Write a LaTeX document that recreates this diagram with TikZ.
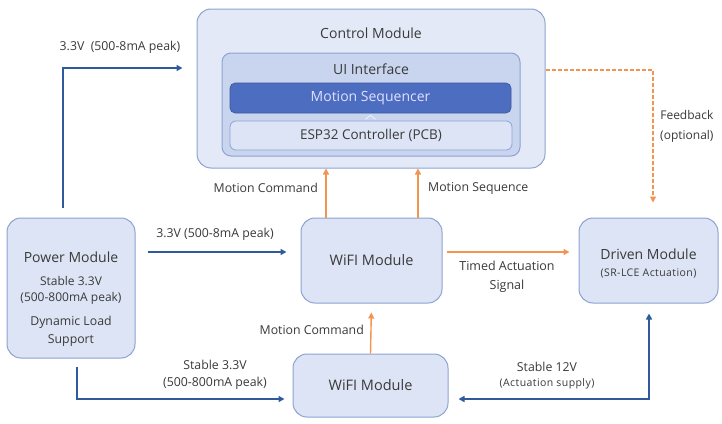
\documentclass[tikz,border=0pt]{standalone}
\usepackage{fontspec}
\setmainfont{Open Sans}
\usetikzlibrary{arrows.meta,calc}
\definecolor{boxfill}{HTML}{DCE4F5}
\definecolor{boxline}{HTML}{8EA3D2}
\definecolor{uifill}{HTML}{C9D4EF}
\definecolor{seqfill}{HTML}{4C6DC0}
\definecolor{bluearr}{HTML}{2F5B9C}
\definecolor{orangearr}{HTML}{F39552}
\definecolor{txt}{HTML}{3A3A3A}
\tikzset{
  modbox/.style={draw=boxline, line width=1pt, fill=boxfill, rounded corners=14pt, inner sep=0pt, text=txt, align=center},
  bluewire/.style={draw=bluearr, line width=1.8pt, -{Triangle[length=6pt,width=6pt]}},
  orangewire/.style={draw=orangearr, line width=1.4pt, -{Triangle[length=6pt,width=6pt]}},
  lbl/.style={text=txt, font=\fontsize{12.3}{17}\selectfont, inner sep=0pt, align=center},
  small/.style={text=txt, font=\fontsize{10.5}{12}\selectfont\addfontfeatures{LetterSpace=4}, inner sep=0pt, align=center},
  title/.style={font=\fontsize{14}{16}\selectfont},
}
\begin{document}
\begin{tikzpicture}[x=1pt,y=-1pt]
\useasboundingbox[fill=white] (0,0) rectangle (722,423);
% Control module
\node[modbox, minimum width=348pt, minimum height=159pt, fill=boxfill!80!white] (control) at (371,88.5) {};
\node[lbl, title] (ctitle) at (371,33) {Control Module};
\node[modbox, rounded corners=9pt, fill=uifill, minimum width=298pt, minimum height=103pt] (ui) at (371,104.5) {};
\node[lbl, title] (uititle) at (371,69) {UI Interface};
\node[draw=seqfill!80!black, line width=0.6pt, fill=seqfill, rounded corners=5pt, minimum width=281pt, minimum height=30pt, inner sep=0pt, text=white!88!blue, font=\fontsize{14}{16}\selectfont] (seq) at (370.5,98) {Motion Sequencer};
\node[draw=boxline, line width=0.8pt, fill=boxfill, rounded corners=6pt, minimum width=282pt, minimum height=29pt, inner sep=0pt, text=txt, font=\fontsize{13.5}{15}\selectfont] (esp) at (371,135.5) {ESP32 Controller (PCB)};
\draw[white!50!boxfill, line width=0.9pt] ([xshift=-5pt,yshift=-6pt]seq.south) -- ([yshift=-2pt]seq.south) -- ([xshift=5pt,yshift=-6pt]seq.south);
% Other modules
\node[modbox, minimum width=141pt, minimum height=85pt, font=\fontsize{14.5}{16}\selectfont] (wifi1) at (371.5,260.5) {WiFI Module};
\node[modbox, minimum width=139pt, minimum height=85pt] (driven) at (648.5,260.5) {};
\node[lbl, font=\fontsize{14}{16}\selectfont] (drivent) at (648.5,254) {Driven Module};
\node[small] (drivens) at (648.5,273) {(SR-LCE Actuation)};
\node[modbox, minimum width=155pt, minimum height=63pt, font=\fontsize{14.5}{16}\selectfont] (wifi2) at (370.5,385.5) {WiFI Module};
\node[modbox, minimum width=128pt, minimum height=140pt] (power) at (71,288) {};
\node[lbl, font=\fontsize{14}{16}\selectfont] (powert) at (71,257) {Power Module};
\node[lbl, font=\fontsize{12}{16}\selectfont] (powers1) at (71,290) {Stable 3.3V\\(500-800mA peak)};
\node[lbl, font=\fontsize{12.3}{18}\selectfont] (powers2) at (71,331) {Dynamic Load\\Support};
% helper coordinates
\coordinate (c63) at (63,68);
\coordinate (c252) at (0,252);
\coordinate (c77) at (77,399);
\coordinate (c326) at (326,0);
\coordinate (c418) at (418,0);
\coordinate (c649) at (649,399);
\coordinate (c653) at (653,70);
% Blue power lines
\draw[bluewire, shorten <=10pt, shorten >=14pt] (power.north -| c63) |- (control.west |- c63);
\draw[bluewire, shorten <=12pt, shorten >=14pt] (power.east |- c252) -- (wifi1.west |- c252);
\draw[bluewire, shorten <=8pt, shorten >=8pt] (power.south -| c77) |- (wifi2.west |- c77);
\draw[bluewire, {Triangle[length=6pt,width=6pt]}-{Triangle[length=6pt,width=6pt]}, shorten <=10pt, shorten >=10pt] (driven.south -| c649) |- (wifi2.east |- c649);
% Orange signal lines
\draw[orangewire] (wifi1.north -| c326) -- (control.south -| c326);
\draw[orangewire] (wifi1.north -| c418) -- (control.south -| c418);
\draw[orangewire, shorten <=4pt, shorten >=9pt] (wifi1.east |- c252) -- (driven.west |- c252);
\draw[orangewire, shorten >=9pt] (wifi2.north) -- (wifi1.south);
\draw[orangewire, dashed, dash pattern=on 4pt off 2pt, line width=1.2pt, shorten >=15pt] (control.east |- c653) -| (driven.north -| c653);
% Labels
\node[lbl] (l1) at (120,47) {3.3V\ \ (500-8mA peak)};
\node[lbl] (l2) at (215,234) {3.3V (500-8mA peak)};
\node[lbl] (l3) at (215,375) {Stable 3.3V\\(500-800mA peak)};
\node[lbl, anchor=east] (l4) at (318,188) {Motion Command};
\node[lbl, anchor=west] (l5) at (428,188) {Motion Sequence};
\node[lbl, anchor=east] (l6) at (364,330) {Motion Command};
\node[lbl, font=\fontsize{12.5}{19}\selectfont] (l7) at (507,276.5) {Timed Actuation\\Signal};
\node[lbl] (l8) at (547,367) {Stable 12V};
\node[small] (l9) at (547,384) {(Actuation supply)};
\node[lbl, anchor=west, font=\fontsize{12}{20}\selectfont] (l10) at (660,126) {Feedback\\(optional)};
\end{tikzpicture}
\end{document}
